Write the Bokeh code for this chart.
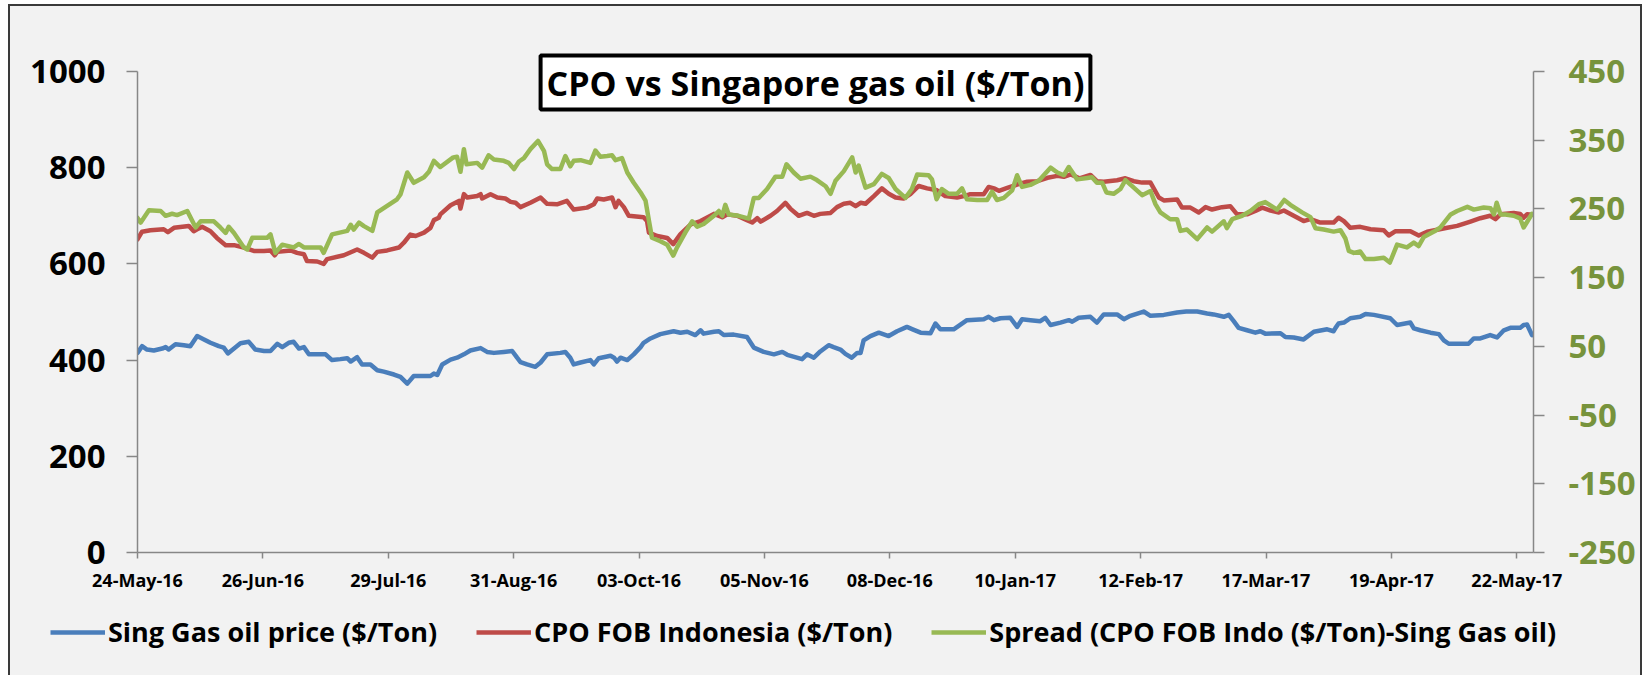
import pandas as pd
from bokeh.plotting import figure
from bokeh.layouts import column
from bokeh.models import (Range1d, LinearAxis, FixedTicker, DatetimeTickFormatter,
                          Legend, LegendItem, Label)
from bokeh.embed import file_html
from bokeh.resources import INLINE

START = "2016-05-24"

tick_labels = ["24-May-16", "26-Jun-16", "29-Jul-16", "31-Aug-16", "03-Oct-16", "05-Nov-16",
               "08-Dec-16", "10-Jan-17", "12-Feb-17", "17-Mar-17", "19-Apr-17", "22-May-17"]
price_ticks = [0, 200, 400, 600, 800, 1000]
spread_ticks = [-250, -150, -50, 50, 150, 250, 350, 450]
spread_tick_labels = ["-250", "-150", "-50", "50", "150", "250", "350", "450"]
series_names = ["Sing Gas oil price ($/Ton)", "CPO FOB Indonesia ($/Ton)",
                "Spread (CPO FOB Indo ($/Ton)-Sing Gas oil)"]

# Sing Gas oil price ($/Ton): days after 24-May-16, value
gas_days = [0, 1.2, 2.5, 4.3, 6.5, 7.4, 8.2, 10, 12.2, 13.9, 15.7, 17.5, 19.2, 21.4, 22.7, 23.8, 25.4,
            27.1, 29.3, 31, 33.3, 35, 36.8, 38.1, 39.8, 41.1, 42.5, 43.8, 45.1, 49.5, 51.2, 53.4, 55.2,
            56.1, 57.8, 59.1, 61.3, 63.1, 64.8, 67.5, 69.2, 71, 72.7, 77.1, 78, 78.9, 80.2, 82.4, 84.1,
            85.9, 87.6, 90.3, 92, 93.8, 96.4, 98.6, 99.9, 100.8, 102.5, 104.7, 106.1, 107.8, 111.3,
            112.6, 113.9, 114.8, 116.6, 119.2, 120.1, 121.4, 124.5, 125.4, 126.2, 127.1, 128.9, 130.6,
            132.4, 133.2, 135, 137.6, 141.1, 142.9, 144.7, 146.8, 148.2, 149, 151.7, 153, 154.3, 156.9,
            160.4, 162.2, 164.8, 167.5, 169.7, 171, 174.9, 176.2, 178, 179.7, 181.9, 183.2, 185, 186.3,
            188, 189.4, 190.3, 191.1, 192.9, 195.1, 197.7, 199.9, 202.5, 204, 206.1, 208.7, 210, 211.3,
            214.8, 218.3, 222.7, 224, 225.4, 227.1, 229.7, 231.5, 232.8, 235, 237.6, 238.9, 240.3, 242.9,
            245.1, 246, 247.7, 250.8, 252.5, 254.3, 257.8, 259.6, 261.3, 264.8, 266.6, 270.1, 273.6,
            276, 278.9, 281.5, 283.2, 285.9, 287.2, 288.5, 289.8, 292, 294.2, 295.5, 296.8, 300.8, 302.1,
            304.3, 306.9, 309.6, 313.1, 314.8, 315.3, 316.1, 317.5, 319.2, 321.8, 323.2, 325.4, 329.7,
            331.5, 335, 335.9, 337.6, 340.3, 342.5, 343.8, 345.1, 350.3, 351.7, 353.4, 356, 357.8, 359.6,
            361.3, 363.9, 364.8, 365.7, 367]
gas_price = [415, 429, 422, 420, 424, 427, 422, 433, 431, 429, 450, 443, 436, 429, 426, 414, 424,
             435, 438, 422, 419, 419, 434, 427, 436, 438, 424, 427, 412, 412, 400, 402, 404,
             397, 406, 391, 391, 379, 376, 370, 365, 351, 367, 367, 372, 369, 391, 401, 405,
             412, 420, 425, 417, 415, 417, 419, 405, 396, 391, 386, 395, 412, 415,
             417, 405, 391, 395, 400, 391, 404, 409, 405, 397, 405, 400, 412,
             427, 436, 445, 454, 460, 457, 459, 452, 462, 455, 459, 460, 452, 453,
             448, 426, 417, 412, 417, 411, 402, 412, 405, 418, 431, 427, 422, 413,
             405, 415, 415, 441, 450, 457, 450, 460, 469, 464, 457, 456, 476, 464,
             464, 483, 485, 490, 483, 487, 488, 469, 485, 483, 481, 488, 473, 478,
             483, 480, 488, 490, 478, 495, 495, 485, 492, 501, 492, 494, 499,
             501, 501, 497, 495, 490, 494, 481, 467, 462, 457, 460, 455, 456, 448,
             447, 443, 459, 464, 460, 467, 476, 478, 487, 490, 496, 494, 487,
             473, 478, 466, 462, 457, 454, 441, 434, 434, 445, 445, 452, 447, 462,
             467, 467, 473, 474, 452]

# CPO FOB Indonesia ($/Ton)
cpo_days = [0, 1.2, 3.4, 6.9, 8, 9.6, 13.5, 14.8, 15.7, 17, 19.2, 20.9, 23.2, 25.4, 28, 30.6, 33.3,
            35, 36.1, 36.8, 40.3, 42, 43.8, 44.6, 47.3, 49, 49.9, 54.3, 57.8, 59.6, 61.8, 63.1, 65.7,
            68.8, 70.1, 71.8, 73.2, 75.4, 77.1, 78, 79.3, 79.7, 82.4, 84.6, 85, 85.9, 86.8, 89.4, 90.3,
            90.7, 92.9, 94.7, 96.8, 98.2, 99.5, 100.8, 103.4, 106.1, 107.8, 110.4, 113, 114.8, 118.3,
            120.1, 121, 122.7, 124.9, 125.8, 126.6, 128, 129.3, 133.2, 134.1, 134.6, 136.8, 139.4, 141,
            142.9, 145.6, 148.2, 151.7, 153.9, 155.2, 157.8, 160.4, 161.8, 163.1, 164, 166.6, 168.3,
            170.5, 171.8, 174, 176.2, 178, 179.7, 182.4, 184.1, 185.9, 187.6, 189, 190.3, 191.6, 193.8,
            195.9, 197.7, 199.5, 201.6, 203.4, 205.6, 207.8, 210.4, 212.6, 215.7, 217.5, 219.2, 222.7,
            224, 225.4, 226.7, 228.9, 231.5, 234.2, 236.8, 239.5, 242.1, 243.8, 245.6, 247.9, 250.8,
            252.5, 254.3, 257.8, 260, 262.2, 264.4, 266.6, 268.8, 270.1, 273.6, 274.9, 277.1, 279.3,
            281.1, 282.8, 285.4, 287.6, 289.4, 292, 294.2, 296, 298.2, 300.4, 301.7, 304.3, 306.9,
            308.7, 311.3, 314.8, 316.1, 317.5, 319.2, 321.8, 324.5, 328, 329.3, 331.1, 335, 337.2,
            339.4, 344.7, 347.3, 350.8, 353.4, 356, 357.4, 358.7, 362.2, 363.9, 364.8, 365.7, 367]
cpo_price = [651, 667, 670, 672, 666, 675, 679, 668, 672, 677, 668, 654, 639, 639, 634, 627, 627,
             628, 618, 625, 628, 623, 620, 606, 605, 600, 610, 618, 630, 623, 613, 625, 628,
             634, 644, 661, 658, 665, 675, 691, 696, 703, 722, 731, 715, 745, 738, 741, 745,
             736, 745, 738, 736, 729, 727, 718, 727, 738, 725, 724, 731, 713, 717,
             724, 736, 734, 738, 718, 731, 718, 700, 697, 689, 665, 658, 654, 641,
             662, 682, 689, 704, 697, 703, 700, 691, 686, 695, 688, 700, 710,
             727, 715, 700, 706, 700, 704, 706, 718, 725, 727, 720, 727, 725, 741,
             757, 746, 738, 736, 745, 762, 757, 753, 741, 738, 741, 745, 745,
             760, 757, 752, 758, 765, 771, 772, 779, 783, 781, 786, 778, 785,
             772, 771, 774, 778, 772, 769, 769, 738, 732, 734, 717, 717, 707,
             718, 713, 718, 720, 703, 703, 710, 717, 711, 707, 711, 700, 689,
             693, 686, 686, 696, 689, 675, 677, 672, 670, 659, 668, 668, 659,
             667, 675, 679, 688, 695, 700, 693, 703, 706, 704, 696, 703, 702]

# Spread (CPO FOB Indo ($/Ton)-Sing Gas oil), right axis
spread_days = [0, 0.8, 3, 6.1, 7.4, 9.1, 10.4, 13.1, 15.3, 16.6, 20.1, 21.8, 23.2, 24, 25.4, 28, 28.9,
               30.2, 34.1, 35, 36.3, 38.1, 41.1, 42.5, 43.8, 48.2, 49, 51.2, 55.2, 56.1, 56.9, 58.3,
               59.6, 61.8, 63.1, 68.3, 69.2, 71, 72.7, 75.4, 76.7, 78, 79.7, 83.1, 84.1, 85, 85.9, 86.6,
               89.4, 90.7, 92.4, 93.8, 96.4, 97.7, 99.1, 100.4, 101.7, 103.4, 105.4, 107, 107.8, 109.1,
               111.3, 112.6, 113.9, 114.8, 116.6, 119.2, 120.5, 121.8, 123.6, 124.9, 125.8, 127.5, 128.9,
               130.6, 132.4, 133.7, 134.6, 135.4, 137.6, 139.4, 141, 142, 144.2, 146, 147.3, 149, 151.7,
               153, 153.9, 154.7, 155.6, 158.2, 160.9, 162.2, 163.5, 165.7, 167.9, 169.7, 170.8, 172.7,
               174.5, 177.1, 178.8, 181.1, 182.4, 183.7, 185.9, 188.1, 189, 189.8, 191.6, 193.8, 195.9,
               197.7, 199.5, 202.1, 203.8, 205.2, 208.2, 209.1, 210.3, 211.7, 213.5, 215.7, 217, 218.3,
               221, 223.6, 224.9, 226.2, 228, 230.2, 231.5, 232.8, 235, 237.2, 238.5, 240.3, 242.1, 243.8,
               245.1, 247.3, 250, 251.2, 252.5, 253.9, 255, 256.9, 258.7, 260, 262.2, 264.4, 266.6, 267.9,
               269.2, 271.8, 273.6, 274.5, 276.2, 278.9, 281.5, 282.8, 285.9, 286.7, 288.1, 290.7, 292.9,
               295.1, 296.8, 299.9, 301.8, 303.4, 306.5, 308.7, 310, 312.2, 314.8, 316.6, 317.9, 318.8,
               320.1, 321.8, 323.2, 325.4, 328, 329.6, 331.5, 334.1, 335.9, 337.2, 338.5, 341.2, 342.9,
               345.6, 347.3, 350, 351.7, 354.3, 356.1, 357, 357.7, 358.7, 360, 362.2, 363.9, 364.8, 365.7,
               367]
spread_val = [237, 230, 248, 247, 240, 243, 241, 247, 223, 232, 232, 223, 215, 224, 215, 194, 191,
              208, 208, 213, 186, 198, 194, 199, 194, 194, 186, 213, 218, 227, 220, 230,
              225, 218, 245, 264, 271, 303, 288, 296, 304, 320, 311, 325, 326, 304, 337, 315,
              317, 310, 328, 322, 320, 317, 308, 319, 324, 337, 349, 334, 315, 308,
              308, 327, 312, 320, 321, 317, 335, 326, 327, 328, 321, 324, 303,
              288, 274, 262, 233, 208, 203, 198, 182, 194, 216, 232, 224, 228, 240,
              247, 240, 256, 242, 240, 236, 266, 266, 279, 297, 297, 315, 303,
              294, 297, 292, 283, 272, 291, 305, 325, 303, 313, 281, 286, 301,
              295, 279, 266, 279, 300, 299, 293, 264, 279, 272, 272, 280, 264,
              263, 263, 275, 263, 266, 277, 299, 282, 285, 291, 299, 310, 303, 299,
              311, 293, 295, 296, 288, 288, 274, 272, 279, 292, 281, 270, 276, 257,
              245, 235, 235, 218, 220, 206, 223, 217, 232, 222, 235, 240, 247,
              257, 260, 249, 263, 256, 245, 238, 222, 220, 217, 219, 207, 189,
              186, 188, 177, 177, 179, 172, 198, 194, 201, 196, 209, 217, 223,
              242, 247, 253, 249, 252, 251, 242, 259, 242, 242, 240, 236, 223, 231,
              243]

start = pd.Timestamp(START)


def to_dates(days):
    return start + pd.to_timedelta(days, unit="D")


FONT = "Open Sans"
AXIS_GRAY = "#878787"
BG = "#f2f2f2"
BORDER = "2px solid #3a3a3a"
COLORS = ["#4A7EBB", "#BE4B48", "#98B954"]
LW = 4.5

# layout (px)
W = 1630
FRAME_W, FRAME_H = 1396, 506      # frame includes head-room above the axes for the title box
AXIS_H = 481                      # pixel height of the drawn value axes
TOP_H = 600
LEG_H = 69
head = FRAME_H / AXIS_H
price_lo, price_hi = price_ticks[0], price_ticks[-1]
spread_lo, spread_hi = spread_ticks[0], spread_ticks[-1]
x_range = Range1d(start, start + pd.Timedelta(days=367.4))

p = figure(x_axis_type="datetime", x_range=x_range,
           y_range=Range1d(price_lo, price_lo + (price_hi - price_lo) * head),
           output_backend="svg", toolbar_location=None,
           min_border_left=127, min_border_right=W - 127 - FRAME_W, min_border_top=40,
           min_border_bottom=TOP_H - 40 - FRAME_H,
           frame_width=FRAME_W, frame_height=FRAME_H)
p.extra_y_ranges = {"spread": Range1d(spread_lo, spread_lo + (spread_hi - spread_lo) * head)}
p.background_fill_color = BG
p.border_fill_color = BG
p.outline_line_color = None
p.xgrid.visible = False
p.ygrid.visible = False

p.line(to_dates(gas_days), gas_price, line_color=COLORS[0], line_width=LW,
       line_join="round", line_cap="round")
p.line(to_dates(cpo_days), cpo_price, line_color=COLORS[1], line_width=LW,
       line_join="round", line_cap="round")
p.line(to_dates(spread_days), spread_val, line_color=COLORS[2], line_width=LW,
       line_join="round", line_cap="round", y_range_name="spread")


def style_axis(ax, size, color, standoff, tick_out):
    ax.major_label_text_font = FONT
    ax.major_label_text_font_style = "bold"
    ax.major_label_text_font_size = size
    ax.major_label_text_color = color
    ax.major_label_standoff = standoff
    ax.major_tick_out = tick_out
    ax.major_tick_in = 0
    ax.minor_tick_line_color = None
    ax.axis_line_color = AXIS_GRAY
    ax.axis_line_width = 1.5
    ax.major_tick_line_color = AXIS_GRAY
    ax.major_tick_line_width = 1.5


# x axis
tick_dates = pd.to_datetime(tick_labels, format="%d-%b-%y")
xaxis = p.xaxis[0]
xaxis.ticker = FixedTicker(ticks=[t.value / 1e6 for t in tick_dates])
fmt = "%d-%b-%y"
xaxis.formatter = DatetimeTickFormatter(milliseconds=fmt, seconds=fmt, minsec=fmt, minutes=fmt,
                                        hourmin=fmt, hours=fmt, days=fmt, months=fmt, years=fmt)
style_axis(xaxis, "18px", "#000000", 9, 6)

# left axis
yaxis = p.yaxis[0]
yaxis.ticker = FixedTicker(ticks=price_ticks)
yaxis.bounds = (price_lo, price_hi)
style_axis(yaxis, "33px", "#000000", 21, 11)

# right axis
raxis = LinearAxis(y_range_name="spread", ticker=FixedTicker(ticks=spread_ticks),
                   bounds=(spread_lo, spread_hi))
raxis.major_label_overrides = dict(zip(spread_ticks, spread_tick_labels))
style_axis(raxis, "33px", "#77933C", 24, 11)
p.add_layout(raxis, "right")

# title box
title = Label(x=678, y=FRAME_H - 36, x_units="screen", y_units="screen",
              text="CPO vs Singapore gas oil ($/Ton)",
              text_font=FONT, text_font_style="bold", text_font_size="34px",
              text_color="#000000", text_align="center", text_baseline="middle",
              background_fill_color="#ffffff", border_line_color="#000000",
              border_line_width=4, padding=(6, 4))
p.add_layout(title)

# legend strip: a second figure whose frame is the whole strip; its copies of the
# series lie outside its (empty) y range, so only the legend shows
leg = figure(x_axis_type="datetime", x_range=x_range, y_range=Range1d(-2, -1),
             output_backend="svg", toolbar_location=None,
             frame_width=W, frame_height=LEG_H,
             min_border_left=0, min_border_right=0, min_border_top=0, min_border_bottom=0,
             x_axis_location=None, y_axis_location=None)
leg.background_fill_color = BG
leg.border_fill_color = BG
leg.outline_line_color = None
leg.xgrid.visible = False
leg.ygrid.visible = False
lr = [leg.line(to_dates(d), v, line_color=c, line_width=LW)
      for d, v, c in zip([gas_days, cpo_days, spread_days], [gas_price, cpo_price, spread_val], COLORS)]

legend = Legend(items=[LegendItem(label=n, renderers=[r]) for n, r in zip(series_names, lr)],
                orientation="horizontal", location=(40, 25))
legend.background_fill_alpha = 0
legend.border_line_alpha = 0
legend.padding = 0
legend.margin = 0
legend.spacing = 39
legend.label_standoff = 3
legend.glyph_width = 55
legend.glyph_height = 20
legend.label_text_font = FONT
legend.label_text_font_style = "bold"
legend.label_text_font_size = "27px"
legend.label_text_color = "#000000"
leg.add_layout(legend)

layout = column(p, leg, spacing=0,
                styles={"margin-left": "8px", "margin-top": "4px",
                        "border-top": BORDER, "border-left": BORDER, "border-right": BORDER,
                        "background-color": BG})

open("out.html", "w").write(file_html(layout, INLINE))
